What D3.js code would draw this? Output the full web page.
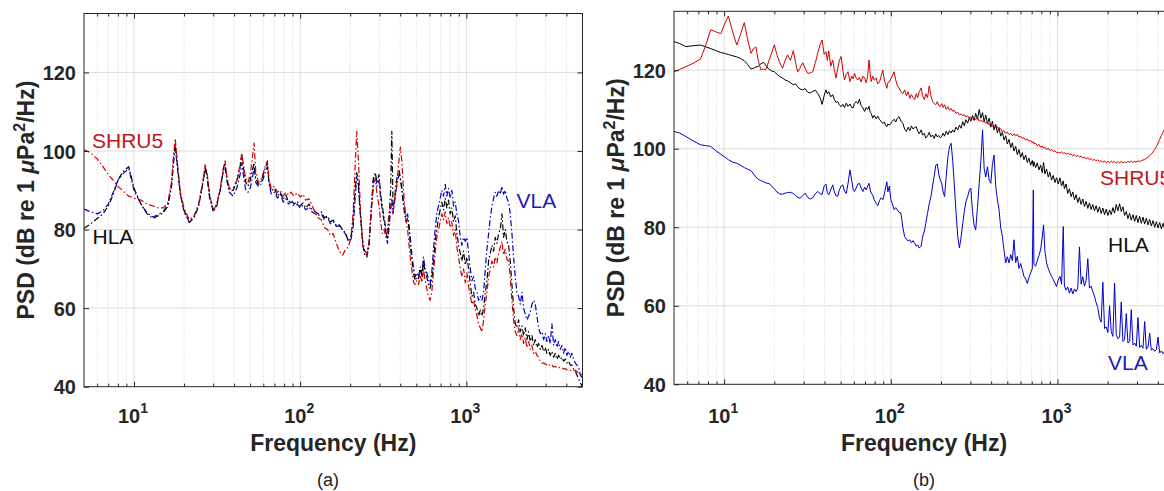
<!DOCTYPE html>
<html><head><meta charset="utf-8">
<script src="https://cdn.jsdelivr.net/npm/d3@7"></script>
<style>
body{margin:0;background:#fff;overflow:hidden}
svg{display:block}
text{font-family:Arial,"Liberation Sans",Helvetica,sans-serif}
</style>
</head><body>
<svg id="c" width="1164" height="491"></svg>
<script>
// ---------- DATA ----------
const yTicks = [40, 60, 80, 100, 120];
const xMajor = [10, 100, 1000];
const xMajorExp = ["1", "2", "3"];
const xMinor = [6,7,8,9,20,30,40,50,60,70,80,90,200,300,400,500,600,700,800,900,2000,3000,4000];
const seriesNames = ["SHRU5", "HLA", "VLA"];

// Panel (a)
const freqA = [
 5,5.5,6,6.5,7,7.5,8,8.5,9,9.3,
 10,11,12,13,14,15,16,16.8,17.3,17.7,
 18.2,19,20,21.5,23,24.5,26,26.8,27.5,28.5,
 30,31.5,33,34.5,35.3,36.2,37.5,39.5,41.5,43.5,
 44.5,45.5,47,48.5,50,51.5,52.8,54,56,58,
 60,62,63.5,65,67,70,73,76,79,82,
 85,88,92,96,100,104,108,113,118,123,
 128,134,140,146,152,158,165,172,180,188,
 195,202,208,214,219,224,230,238,245,252,
 260,268,276,283,290,298,305,312,320,328,
 335,342,350,356,362,370,378,386,394,401,
 408,416,425,434,443,452,462,472,482,493,
 504,516,528,540,552,565,578,591,605,619,
 634,649,664,680,696,712,729,746,763,781,
 799,818,837,857,877,898,919,940,962,985,
 1008,1032,1056,1081,1106,1132,1158,1185,1213,1241,
 1270,1300,1330,1361,1393,1426,1459,1493,1528,1564,
 1600,1637,1675,1714,1754,1795,1837,1880,1924,1969,
 2015,2062,2110,2160,2210,2262,2315,2369,2424,2481,
 2539,2598,2659,2721,2785,2850,2916,2984,3054,3125,
 3198,3273,3350,3428,3508,3590,3674,3760,3848,3938,
 4030,4124,4220,4319,4420,4523,4629,4737,4848,5000
];
const shruA = [
 100.3,99.5,98,96,94,92.5,91,90,89,88.5,
 88,87.5,86.5,86,85.5,85.5,87,92,99,103.2,
 97.5,89.5,85.5,82.5,83.5,86.5,92.5,96.5,94.5,89,
 84.8,86.5,90.5,95.5,97.5,93.5,90.5,90.5,92.5,96.5,
 99.5,96.5,93,92,94,98,102,95,92,92.5,
 94.5,96.5,97.5,92.5,90.5,91,89.5,90,88.5,89.5,
 88.8,89.5,88.5,89.3,88.3,89,87.5,87.8,86,84.5,
 83,82.5,80.5,80,78.5,79,76.5,74.5,73.5,75,
 75.5,78,84,96,105,98,86,76,74,73.5,
 77,85,91,93,89,86,82,79,80,78,
 80,84,86,85,84,88,90,94,98,101,
 98,92,86,82,80,76,72,69,66.5,66,
 67,66,68.5,66.5,70,67,65,63,62,64,
 69,74,78,80,82,84,82.5,84.5,81.5,83,
 80.5,82,78.5,80,75.5,73,70,68,70,66.5,
 69,65.5,63,61,62,59.5,58,56,55,54,
 57,61,64,68,70,72,70.5,73,71.5,74,
 75.5,77,73.5,75,72.5,72,68,62,57,54,
 53,55,52,53.5,51,52.5,50,51.5,49.5,50.5,
 48.5,49,48,47.5,46.5,46,46,45.8,45.5,45.8,
 45.3,45.5,45,45.2,44.8,45,44.7,44.8,44.5,44.6,
 44.3,44.4,44.2,44,44,44.2,43.8,43.5,43.3,43
];
const hlaA = [
 80.3,81.5,82.8,84,86,89,92.5,94.5,95.5,96,
 90.5,86.5,84,82.8,83.5,84.3,86,91,98,102,
 97,89,85,81.8,83,86,92,96,94,88.5,
 84.5,86,90,95.5,97,93,90,90,92,96,
 99,96,92,91,92.5,95,97,93,91.5,92,
 94,96,97,92,89.8,90.5,88.5,89.5,87.6,88.8,
 87,87.5,86.5,87.2,86,86.8,85.5,86.5,85,84.6,
 84,84.5,83,83.5,82,82.4,81,81.2,80,79,
 77,78,82,90,94.5,92,84,76,73.5,73,
 76,85,93,94.5,92,94,89,86,83,80,
 77.5,82,90,105,86,88,92,94,95,93,
 90.5,87,84,82,83,80,75,72,68.5,67,
 68,67.5,70,68,72,69,68,66,65,67,
 72,77,80,83,85,87,85,88,85.5,87.5,
 84,85.5,82,83.5,79,76,74,72,74.5,71,
 73,70,66,63,64,61,60,58,59.5,58,
 60,64,67,72,74,76,74.5,78,76.5,79,
 80,84,78,80,77,76,72,66,60,56,
 55,57,54,55.5,53,55,52,54,51.5,53,
 50.5,52,50,51,49.5,50.5,49,50,48.5,49.5,
 48,49,47.5,48.5,47,48,47,47.5,46.5,47,
 46,46.5,45.5,45.5,44.5,44,43,42,41,40
];
const vlaA = [
 85.2,84.5,84,84.8,86.5,89.5,92.5,94,95,95.5,
 90,86.5,84.2,83.2,83.8,84.6,86.5,91,97,101,
 96,89,84.5,82,83.3,86.5,92,95.5,93.5,88,
 85,86.5,90,95,96,92.5,89.5,88.5,90.5,94,
 97,94,90,89.5,90.5,93,96,92,91,91.5,
 93,95,96,91.5,89,89.5,88,89,87,87.8,
 86.5,87,86,86.5,85.5,86.2,85,85.8,84.5,84,
 83.5,84,82.5,83.2,81.5,82,80.8,81,79.8,78.8,
 77,77.5,80,88,93.5,91,84,77,74.5,74,
 77,86,93,94,91,92.5,88,85,82,79,
 76.5,80,85,88,84,87,90,92.5,94,93,
 91,88,85.5,83,84,81,77,73,70,68,
 69,68,70.5,68.5,73,70,69,67.5,66,69,
 75,80,84,86,88,90,88.5,91.5,88.5,90.5,
 88,90,86,87,84,82,78,76,78,77,
 78,74,70,67,68,65,64,62,63,62,
 64,70,75,79,83,86,88,89.5,88.5,90,
 89,91,89,90,88,87,84,79,73,68,
 64,63,61,64,60,58.5,57,58,59,61,
 62,61,58,55,53.5,54,52,53.5,51.5,53,
 51,56,50.5,52,50,51.5,49.5,50.5,48.5,50,
 48,49,47.5,48.5,47,46,45.5,45,43,42
];

// Panel (b)
const freqB = [
 5,5.4,5.9,6.4,7.2,7.7,8.3,8.9,9.55,10,
 10.6,11.2,11.9,12.5,13.2,13.8,14.5,15,15.5,16,
 16.6,17.2,17.8,18.6,19.3,20,20.7,21.5,22.4,23.2,
 24,25,26,26.8,27.6,28.5,29.6,30.6,31.7,32.8,
 34,35.3,36.5,37.6,38.7,39.8,40.8,41.6,42.4,43.6,
 44.8,45.8,46.9,48,49.1,50.3,51.5,52.7,54,55.3,
 56.9,58.2,59.5,60.5,62,63.4,64.8,66.3,68,69.6,
 71.2,72.6,74,75.2,76.3,77.8,79.5,81.7,83.5,85.5,
 87.5,89.5,91.5,92.9,94.6,96,98,100,102,104.6,
 107,109.5,112,115,118,121,124,127,130,133,
 136,139,142,145,148,152,155,159,162,166,
 170,174,178,182,186,190,194,198,202,206,
 210,215,220,225,230,235,240,246,252,258,
 264,270,276,282,289,296,302,309,316,323,
 331,339,347,355,363,371,380,389,398,407,
 416,426,436,446,456,467,478,489,500,512,
 524,536,548,561,574,587,601,615,629,644,
 659,674,690,706,716,722,739,756,774,792,
 810,825,840,860,880,900,921,943,965,987,
 1010,1034,1058,1083,1100,1126,1152,1179,1207,1235,
 1264,1293,1323,1354,1386,1418,1451,1485,1520,1555,
 1591,1628,1666,1705,1745,1786,1828,1871,1915,1960,
 2006,2053,2101,2150,2200,2251,2304,2358,2413,2469,
 2527,2586,2646,2708,2771,2836,2902,2970,3039,3110,
 3183,3257,3333,3411,3491,3572,3656,3741,3828,3918,
 4009,4103,4199,4297,4397,4500,4605,4712,4822,4935,
 5000
];
const shruB = [
 119.6,120.2,120.9,121.6,122.8,126,130.3,129.8,129.3,131.5,
 133.8,130,126.4,129,132.1,128,124.3,125.5,125.9,122.5,
 120.1,120.3,120.1,122.5,124.5,126.5,124,122,120.5,122.5,
 123.9,122.5,125,122,119.6,120.5,121.9,120.5,119.2,119.3,
 119.6,122,124.5,126.5,127.7,124,124.7,122.5,124.9,121,
 122.6,120,118,120.5,122.5,123.5,120,117.5,119,119.6,
 117.1,118.5,117.8,119.2,118,117.5,118.2,117,118.5,118,
 116.8,118.5,122.6,119,117.1,118.5,117.5,118,116.5,117,
 118.5,120,117.5,116.5,115.4,116.8,117,117.8,118.5,119.6,
 117.5,116,115.5,114.5,114,115,113.5,114.5,112.8,113.8,
 113,112.5,114,113,114.5,115.5,113.5,112.5,114,113,
 116,113.5,112,111.5,111.2,112,111,110.8,111.5,110.5,
 111.2,110,110.7,109.8,110.3,109.5,109.8,109,109.3,108.6,
 108.9,108.4,108.7,108.1,108.4,107.8,108,107.6,107.9,107.4,
 107.9,107,107.3,106.8,107,106.5,106.7,106,106.4,105.7,
 106,105.3,105.6,104.8,105.1,104.3,104.6,103.9,104.2,103.6,
 103.9,103.3,103.8,103.2,103.7,103,103.2,102.6,102.8,102.2,
 102.5,101.9,102.1,101.5,101.8,101.3,101.4,100.8,101.1,100.4,
 100.7,100.1,100.4,99.8,100.1,99.5,99.8,99.3,99.5,99,
 99.1,98.9,99.2,98.8,99,98.6,98.9,98.5,98.7,98.2,
 98.5,98,98.3,97.9,98.1,97.6,97.9,97.4,97.7,97.2,
 97.5,97,97.3,96.9,97.2,96.7,97,96.5,96.9,96.4,
 96.8,96.4,96.9,96.5,96.8,96.3,96.7,96.4,96.8,96.3,
 96.7,96.4,96.8,96.5,96.9,96.5,96.8,96.6,96.9,96.7,
 97,97.1,97.3,97.5,97.8,98.2,98.6,99.2,99.8,100.5,
 101.4,102.4,103.3,104.2,105,106,107,108,109,110,
 110.5
];
const hlaB = [
 127.3,126.8,126,126.2,126.4,126,125.5,125,124.5,124.3,
 124,123.7,123.4,123,122.4,121.5,120.3,120.5,120.8,121,
 121.6,122,121.2,120.2,119.8,119.6,119,118.4,118,117.5,
 117.3,116.8,116.3,116.5,115.8,115.2,115,115.3,114.4,114.2,
 114.6,114.9,114,113,111.3,113.5,115,114,114.5,113.2,
 113.8,112.5,111.8,112,111.2,110.7,111.3,110.5,111.6,110.8,
 111.4,110.5,110.4,111.5,112,111.5,112.6,111,110.4,109.5,
 110.5,110,110.8,109.3,109,107.8,108.5,107.6,108.3,107.4,
 107,106.4,106.8,106,105.6,106.3,106,106.5,107,107.5,
 106.8,107.8,108.2,107,106.5,105,104.4,105.5,104.6,105.8,
 105,105.4,105.6,104.5,103.8,104.8,103.5,103.9,102.7,103.2,
 104.2,103,103.5,102.6,103.8,103,103.4,102.8,103.1,104,
 103.2,104.5,103.6,104.6,104,104.8,104.2,105.5,104.8,106,
 105.2,106.9,105.8,107.4,106.5,108,107,108.5,107.2,109,
 107.5,110,107.8,109.2,106.8,108.6,106.4,107.8,105.5,107,
 104.8,106.2,104,105.4,103.2,104.2,102.2,103.3,101.2,102.4,
 100.3,101.5,99.4,100.6,98.5,99.8,97.8,99,97.2,98.4,
 96.5,97.6,95.8,97,95.5,96.7,95.2,96.4,94.6,95.8,
 93.9,96.5,93.6,94.8,92.8,94,92,93.2,91.4,92.6,
 91,92.6,90.5,91.8,89.8,91,88.6,89.8,87.8,89,
 87,88.3,86.3,87.6,85.8,87.2,85.3,86.6,84.8,86.2,
 84.5,85.8,84.2,85.5,83.8,85.2,83.5,84.9,83.2,84.6,
 83,84.4,83.2,85,83.6,85.8,84.2,86,84,85.2,
 83,84,82.2,83.5,81.8,83.2,81.5,83,81.2,82.8,
 81,82.6,80.8,82.3,80.6,82,80.3,81.7,80,81.4,
 79.8,81.2,79.6,81,79.5,80.8,79.4,80.6,79.3,80.4,
 79.5
];
const vlaB = [
 104.4,104,103.1,102.2,101,100.8,100.6,99.5,98.6,98,
 97.2,96.6,96.3,95.8,95.2,94.8,94.4,93.6,92.8,92.2,
 91.9,91.6,91.3,91.1,90.5,89.8,89,88.5,88.4,88.7,
 88.8,88.9,88.6,88.1,87.6,87.4,88,88.7,87.6,87.2,
 87.5,88.6,89.1,88.6,88.3,90.5,91,88.8,88.3,89.5,
 90.8,89,88,87.9,89.5,90.5,90.8,89.2,88.6,91,
 94.6,92,89.5,89.1,90,91,91.2,90,89.1,90.2,
 89.5,90.5,91.2,89.5,88.7,88.2,87,86.1,85.5,86.8,
 87.5,87,88.5,90,91.6,89,90.5,87,86,84.5,
 85,84.4,83.8,83.6,80,77.6,77,76.5,76.8,76,
 76.6,75.9,75.2,75.5,74.7,75.2,77.6,79,81,83.5,
 86,87.8,90.5,93,95.8,96.1,93.5,92,91.2,89,
 87.8,93,98,100.5,101.4,97,91.2,84,77.6,74.7,
 77.5,81,84,86.5,87.8,89.5,90,84,80.5,79.3,
 85,91.2,97,104.8,95,92.8,95.4,92,91.2,96,
 98.4,90.4,87,84.4,80,77.6,74,70.9,72.5,70.9,
 73,71.5,76.8,71,72.6,69.5,70.8,69.2,67.5,66.8,
 65.7,67.2,68.4,69.5,89.5,70.5,70.1,71.5,72.8,74.3,
 77.5,80.6,74,70.9,69.5,68.4,67.5,66.7,65.8,64.9,
 66.5,67.5,65.5,80.2,65,64,64.8,63.2,64.5,63,
 64.3,63.6,64.5,75,65.5,67.4,65,66.5,72,64.5,
 65,63.6,62.5,60.8,59.5,56.8,55.8,66,54.2,54.6,
 53.2,60,53.4,52.2,65.8,52.6,51.6,52,61,50.9,
 51.4,58,50.5,50.9,59,50,50.5,49.7,57,49.4,
 49.9,49.2,56,48.9,49.5,53,48.7,49.1,48.4,48.8,
 52,48,48.5,47.8,48.3,47.6,48.1,47.4,47.8,47.3,
 47.5
];

// ---------- DRAWING ----------
const svg = d3.select("#c");
const zip = (f, v) => f.map((d, i) => [d, v[i]]).filter(d => d[1] != null);
const AX = "#262626";

function drawPanel(p) {
  const x = d3.scaleLog().domain([5, 5000]).range([p.x0, p.x1]);
  const y = d3.scaleLinear().domain([40, 135]).range([p.y1, p.y0]);
  const g = svg.append("g");
  const clipId = "clip" + p.id;
  svg.append("clipPath").attr("id", clipId).append("rect")
    .attr("x", p.x0).attr("y", p.y0).attr("width", p.x1 - p.x0).attr("height", p.y1 - p.y0);

  // grid
  const grid = g.append("g");
  grid.selectAll("line.mn").data(xMinor).join("line").attr("class","mn")
    .attr("x1", d => x(d)).attr("x2", d => x(d)).attr("y1", p.y0).attr("y2", p.y1)
    .attr("stroke", "#c8c8c8").attr("stroke-width", 0.8).attr("stroke-dasharray", "1,2");
  grid.selectAll("line.mj").data(xMajor).join("line").attr("class","mj")
    .attr("x1", d => x(d)).attr("x2", d => x(d)).attr("y1", p.y0).attr("y2", p.y1)
    .attr("stroke", "#dcdcdc").attr("stroke-width", 1);
  grid.selectAll("line.yg").data(yTicks.filter(d => d > 40)).join("line").attr("class","yg")
    .attr("x1", p.x0).attr("x2", p.x1).attr("y1", d => y(d)).attr("y2", d => y(d))
    .attr("stroke", "#dcdcdc").attr("stroke-width", 1);

  // series
  const line = d3.line().x(d => x(d[0])).y(d => y(d[1]));
  const lg = g.append("g").attr("clip-path", `url(#${clipId})`);
  p.series.forEach(s => {
    lg.append("path").datum(zip(p.freq, s.values)).attr("d", line)
      .attr("fill", "none").attr("stroke", s.color).attr("stroke-width", s.width)
      .attr("stroke-dasharray", s.dash || null).attr("stroke-linejoin", "round");
  });

  // axes (inward ticks)
  const styleAxis = sel => { sel.select(".domain").remove(); sel.selectAll(".tick line").attr("stroke", AX); };
  g.append("g").attr("transform", `translate(0,${p.y1})`)
    .call(d3.axisBottom(x).tickValues(xMajor).tickSize(-5).tickFormat("")).call(styleAxis);
  g.append("g").attr("transform", `translate(0,${p.y1})`)
    .call(d3.axisBottom(x).tickValues(xMinor).tickSize(-3).tickFormat("")).call(styleAxis);
  g.append("g").attr("transform", `translate(0,${p.y0})`)
    .call(d3.axisTop(x).tickValues(xMajor).tickSize(-5).tickFormat("")).call(styleAxis);
  g.append("g").attr("transform", `translate(0,${p.y0})`)
    .call(d3.axisTop(x).tickValues(xMinor).tickSize(-3).tickFormat("")).call(styleAxis);
  const ya = g.append("g").attr("transform", `translate(${p.x0},0)`)
    .call(d3.axisLeft(y).tickValues(yTicks).tickSize(-5).tickPadding(8).tickFormat(d3.format("d")))
    .call(styleAxis);
  ya.attr("font-size", null).attr("font-family", null);
  ya.selectAll(".tick text").attr("fill", "#262626").attr("font-size", 20).attr("font-weight", "bold")
    .attr("dy", "0.36em");
  g.append("g").attr("transform", `translate(${p.x1},0)`)
    .call(d3.axisRight(y).tickValues(yTicks).tickSize(-5).tickFormat("")).call(styleAxis);

  // box
  g.append("rect").attr("x", p.x0).attr("y", p.y0).attr("width", p.x1 - p.x0).attr("height", p.y1 - p.y0)
    .attr("fill", "none").attr("stroke", AX).attr("stroke-width", 1);

  // x tick labels 10^n
  xMajor.forEach((v, i) => {
    const t = g.append("text").attr("x", x(v) - 1).attr("y", 422.5).attr("text-anchor", "middle")
      .attr("font-size", 20).attr("font-weight", "bold").attr("fill", "#262626");
    t.append("tspan").text("10");
    t.append("tspan").attr("dy", -9.5).attr("font-size", 14).text(xMajorExp[i]);
  });

  // axis titles
  g.append("text").attr("x", (p.x0 + p.x1) / 2).attr("y", 451).attr("text-anchor", "middle")
    .attr("font-size", 23).attr("font-weight", "bold").attr("fill", "#262626").text("Frequency (Hz)");
  const yt = g.append("text").attr("transform", `translate(${p.ylabX},${(p.y0 + p.y1) / 2}) rotate(-90)`)
    .attr("text-anchor", "middle").attr("font-size", 23).attr("font-weight", "bold").attr("fill", "#262626");
  yt.append("tspan").text("PSD (dB re 1 ");
  yt.append("tspan").attr("font-style", "italic").text("\u03bc");
  yt.append("tspan").text("Pa");
  yt.append("tspan").attr("dy", -9).attr("font-size", 16).text("2");
  yt.append("tspan").attr("dy", 9).text("/Hz)");

  // panel letter
  g.append("text").attr("x", p.letterX).attr("y", 486).attr("text-anchor", "middle")
    .attr("font-size", 18).attr("fill", "#222").text(p.letter);

  // series labels
  p.labels.forEach(l => {
    g.append("text").attr("x", l.x).attr("y", l.y).attr("font-size", 21).attr("fill", l.color).text(l.text);
  });
}

const RED = "#d00000", BLUE = "#0000c8", BLACK = "#000000";

drawPanel({
  id: "a", x0: 84, x1: 582.5, y0: 13.5, y1: 386.7, ylabX: 33.5, letter: "(a)", letterX: 328,
  freq: freqA,
  series: [
    { values: vlaA, color: BLUE, width: 1.2, dash: "6,2.5,1.5,2.5" },
    { values: hlaA, color: BLACK, width: 1.2, dash: "6,2.5,1.5,2.5" },
    { values: shruA, color: RED, width: 1.2, dash: "6,2.5,1.5,2.5" }
  ],
  labels: [
    { text: seriesNames[0], x: 92, y: 148, color: "#c0161b" },
    { text: seriesNames[1], x: 92.5, y: 243.5, color: "#111" },
    { text: seriesNames[2], x: 516.5, y: 208, color: "#1c1cb0" }
  ]
});

drawPanel({
  id: "b", x0: 674, x1: 1174, y0: 11.3, y1: 384.3, ylabX: 623.5, letter: "(b)", letterX: 924,
  freq: freqB,
  series: [
    { values: vlaB, color: BLUE, width: 1 },
    { values: hlaB, color: BLACK, width: 1 },
    { values: shruB, color: RED, width: 1 }
  ],
  labels: [
    { text: seriesNames[0], x: 1100, y: 185, color: "#c0161b" },
    { text: seriesNames[1], x: 1108, y: 251.5, color: "#111" },
    { text: seriesNames[2], x: 1108, y: 370, color: "#1c1cb0" }
  ]
});
</script>
</body></html>
